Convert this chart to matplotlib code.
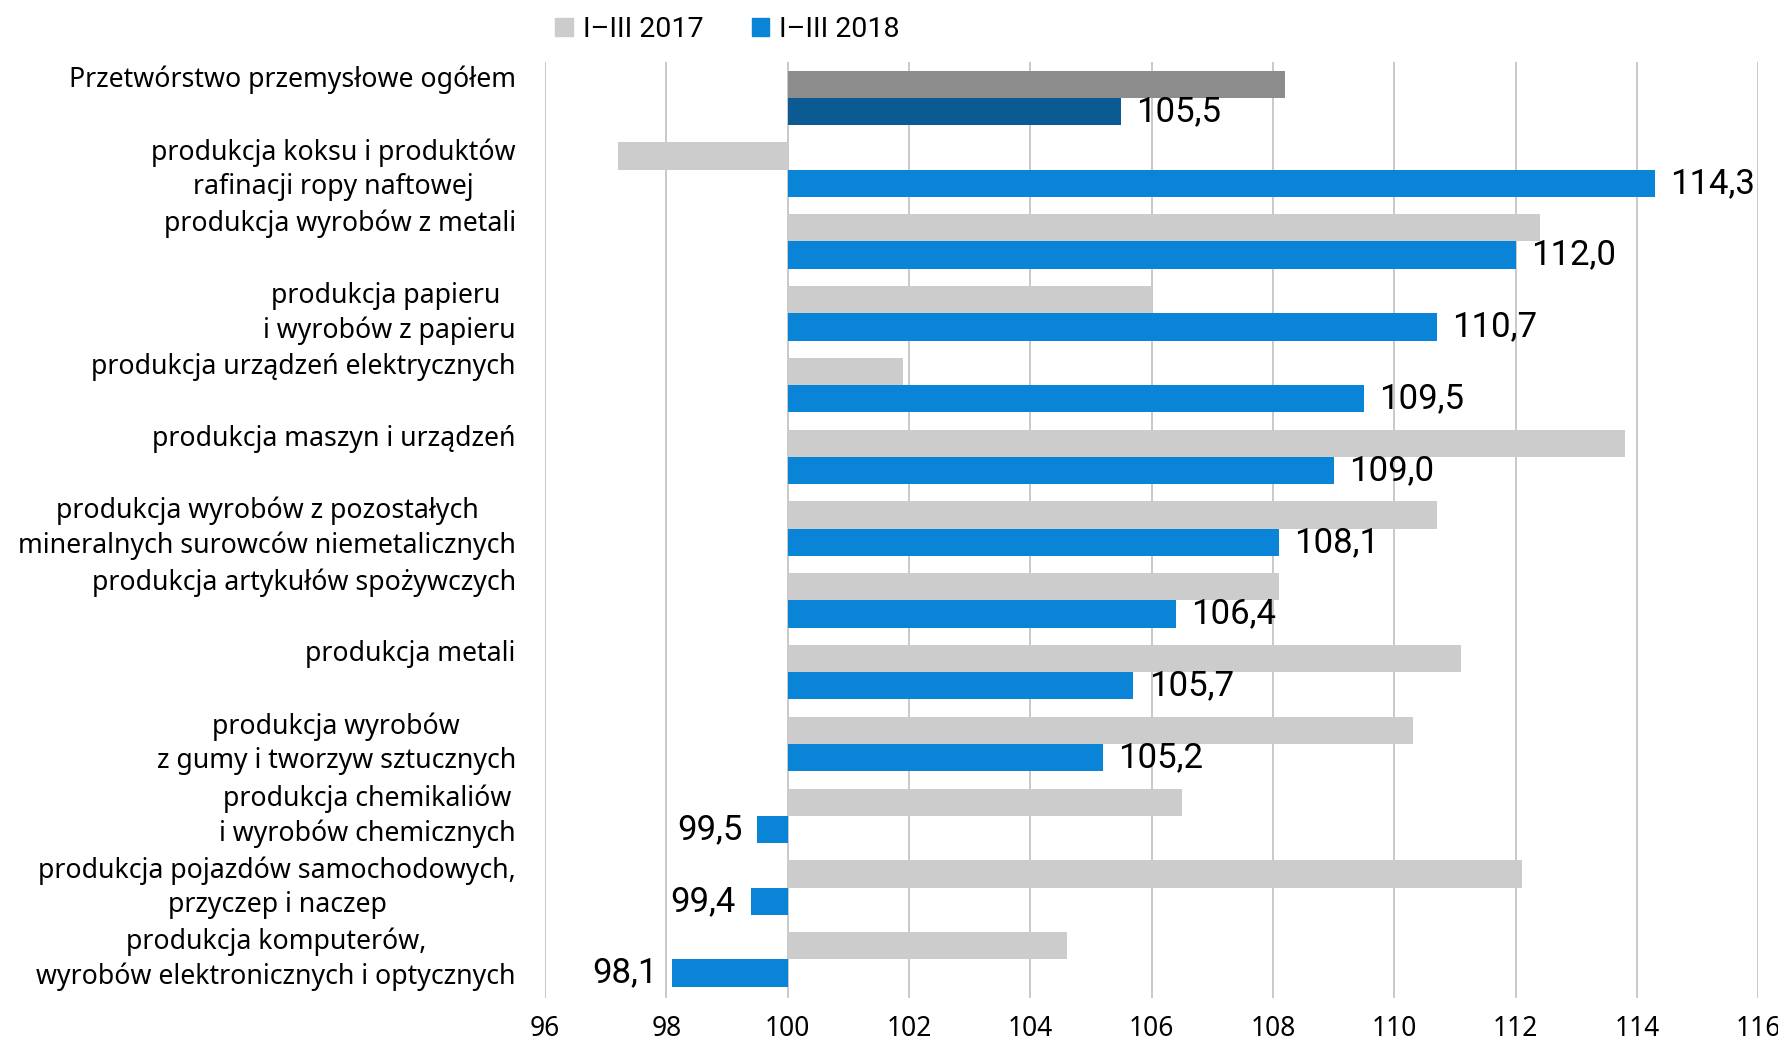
import matplotlib.pyplot as plt
import matplotlib.transforms as mtransforms
from matplotlib.patches import Patch
import numpy as np

categories = [
    "Przetwórstwo przemysłowe ogółem",
    "produkcja koksu i produktów\nrafinacji ropy naftowej",
    "produkcja wyrobów z metali",
    "produkcja papieru \ni wyrobów z papieru",
    "produkcja urządzeń elektrycznych",
    "produkcja maszyn i urządzeń",
    "produkcja wyrobów z pozostałych\nmineralnych surowców niemetalicznych",
    "produkcja artykułów spożywczych",
    "produkcja metali",
    "produkcja wyrobów\nz gumy i tworzyw sztucznych",
    "produkcja chemikaliów\ni wyrobów chemicznych",
    "produkcja pojazdów samochodowych,\nprzyczep i naczep",
    "produkcja komputerów,\nwyrobów elektronicznych i optycznych",
]
val_2017 = [108.2, 97.2, 112.4, 106.0, 101.9, 113.8, 110.7, 108.1, 111.1, 110.3, 106.5, 112.1, 104.6]
val_2018 = [105.5, 114.3, 112.0, 110.7, 109.5, 109.0, 108.1, 106.4, 105.7, 105.2, 99.5, 99.4, 98.1]
xticks = [96, 98, 100, 102, 104, 106, 108, 110, 112, 114, 116]
base = 100
series_names = ["I–III 2017", "I–III 2018"]

GRAY = "#cccccc"
BLUE = "#0a84d6"
DARK_GRAY = "#8c8c8c"
DARK_BLUE = "#0b5a91"

label_font = ["Noto Sans", "DejaVu Sans"]
num_font = ["Roboto", "DejaVu Sans"]

fig = plt.figure(figsize=(17.78, 10.43), dpi=100)
ax = fig.add_axes([0.3065, 0.043, 0.6825, 0.8976])

y = np.arange(len(categories))
h = 0.38
c17 = [DARK_GRAY] + [GRAY] * (len(categories) - 1)
c18 = [DARK_BLUE] + [BLUE] * (len(categories) - 1)
v17 = np.array(val_2017)
v18 = np.array(val_2018)
ax.barh(y - h / 2, v17 - base, left=base, height=h, color=c17, zorder=2)
ax.barh(y + h / 2, v18 - base, left=base, height=h, color=c18, zorder=2)

for yi, v in zip(y, v18):
    txt = f"{v:.1f}".replace(".", ",")
    if v >= base:
        ax.text(v + 0.25, yi + h / 2, txt, va="center", ha="left", fontsize=25, family=num_font)
    else:
        ax.text(v - 0.25, yi + h / 2, txt, va="center", ha="right", fontsize=25, family=num_font)

# category labels (single-line ones sit a bit above centre, as in the source)
trans = mtransforms.blended_transform_factory(ax.transAxes, ax.transData)
for yi, lab in zip(y, categories):
    off = 0 if "\n" in lab else -0.25
    ax.text(-0.024, yi + off, lab, transform=trans, ha="right", va="center",
            multialignment="center", fontsize=19.2, family=label_font, linespacing=1.3)

ax.set_xlim(96, 116)
ax.set_ylim(len(categories) - 0.46, -0.5)
ax.set_xticks(xticks)
ax.set_xticklabels([str(t) for t in xticks], fontsize=19, family=label_font)
ax.set_yticks([])
ax.tick_params(axis="x", length=0, pad=12)
ax.grid(axis="x", color="#c0c0c0", linewidth=1.2, zorder=0)
for s in ax.spines.values():
    s.set_visible(False)

handles = [Patch(color=GRAY), Patch(color=BLUE)]
fig.legend(handles, series_names, loc="center left", bbox_to_anchor=(0.298, 0.972), ncol=2,
           frameon=False, handlelength=0.6, handleheight=0.6, handletextpad=0.35, columnspacing=1.7,
           prop={"family": num_font, "size": 20.5})

fig.savefig("out.png", dpi=100)
